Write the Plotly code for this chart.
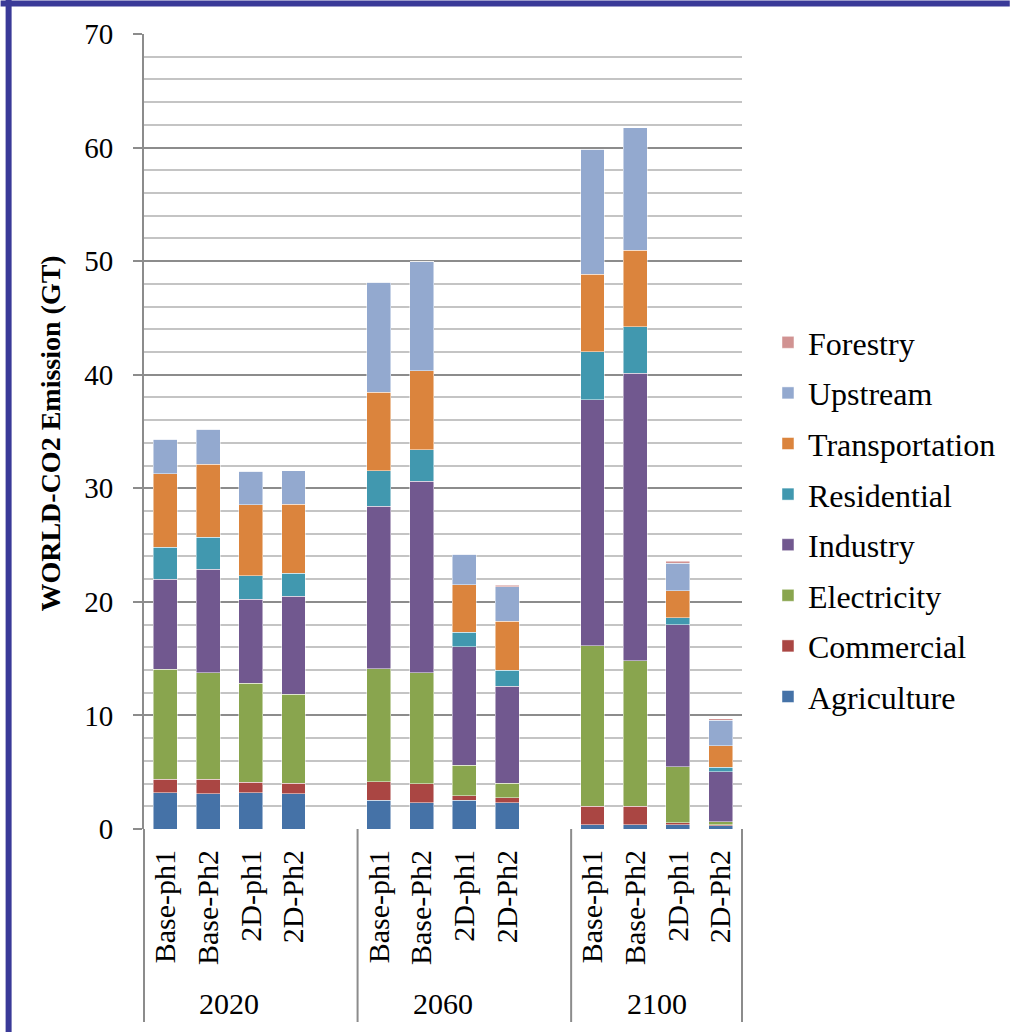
import plotly.graph_objects as go

# ---- data (GT of CO2 by sector) ----
years = ["2020", "2060", "2100"]
scenarios = ["Base-ph1", "Base-Ph2", "2D-ph1", "2D-Ph2"]

agriculture = [3.2, 3.1, 3.2, 3.1, 2.55, 2.3, 2.55, 2.3, 0.37, 0.37, 0.37, 0.3]
commercial = [1.2, 1.27, 0.91, 0.91, 1.62, 1.68, 0.37, 0.47, 1.64, 1.64, 0.16, 0.08]
electricity = [9.66, 9.39, 8.72, 7.84, 9.93, 9.77, 2.69, 1.28, 14.11, 12.8, 4.97, 0.25]
industry = [7.95, 9.1, 7.39, 8.66, 14.31, 16.87, 10.44, 8.52, 21.66, 25.3, 12.47, 4.39]
residential = [2.82, 2.82, 2.09, 1.99, 3.13, 2.79, 1.28, 1.41, 4.26, 4.11, 0.61, 0.41]
transportation = [6.43, 6.43, 6.25, 6.11, 6.9, 6.94, 4.18, 4.31, 6.81, 6.76, 2.38, 1.88]
upstream = [3.05, 3.11, 2.93, 2.93, 9.7, 9.59, 2.69, 3.03, 10.99, 10.75, 2.46, 2.26]
forestry = [0, 0, 0, 0, 0, 0, 0, 0.14, 0, 0, 0.16, 0.16]

sectors = ["Agriculture", "Commercial", "Electricity", "Industry",
           "Residential", "Transportation", "Upstream", "Forestry"]
values = [agriculture, commercial, electricity, industry,
          residential, transportation, upstream, forestry]
colors = ["#4572A7", "#AA4643", "#89A54E", "#71588F",
          "#4198AF", "#DB843D", "#93A9CF", "#D19392"]

# ---- layout geometry ----
W, H = 1010, 1032
L, R, T, B = 143.5, 268, 34, 203
PW, PH = W - L - R, H - T - B

def px_x(p):
    return (p - L) / PW

def px_y(p):
    return (H - B - p) / PH

# each year group holds its scenarios plus one empty slot between groups
slot = len(scenarios) + 1
n_slots = slot * len(years) - 1
xpos = [g * slot + i for g in range(len(years)) for i in range(len(scenarios))]
labels = [s for _ in years for s in scenarios]

serif = "Liberation Serif"

fig = go.Figure()
for i, (name, vals, col) in enumerate(zip(sectors, values, colors)):
    fig.add_trace(go.Bar(
        x=xpos, y=vals, name=name, legendgroup=name,
        legendrank=100 - i,  # top of stack listed first
        marker=dict(color=col, line=dict(color="rgba(255,255,255,0.6)", width=0.8)),
        width=0.56,
    ))

shapes = []
# vertical separators below the axis between year groups
for k in range(len(years) + 1):
    xs = min(k * slot, n_slots) / n_slots
    shapes.append(dict(type="line", xref="paper", yref="paper",
                       x0=xs, x1=xs, y0=0, y1=px_y(1022),
                       line=dict(color="#8c8c8c", width=2)))
# outer frame (left and top edges)
shapes.append(dict(type="line", xref="paper", yref="paper",
                   x0=px_x(8), x1=px_x(8), y0=px_y(0), y1=px_y(H + 5),
                   line=dict(color="#3a3a98", width=6)))
shapes.append(dict(type="line", xref="paper", yref="paper",
                   x0=px_x(0), x1=px_x(W), y0=px_y(3.5), y1=px_y(3.5),
                   line=dict(color="#3a3a98", width=6)))

annotations = []
for g, yr in enumerate(years):
    cx = (g * slot + (len(scenarios) - 1) / 2 + 0.5) / n_slots
    annotations.append(dict(text=yr, xref="paper", yref="paper", x=cx, y=px_y(1003),
                            showarrow=False, font=dict(family=serif, size=30, color="#000"),
                            xanchor="center", yanchor="middle"))
annotations.append(dict(text="<b>WORLD-CO2 Emission (GT)</b>", xref="paper", yref="paper",
                        x=px_x(49), y=px_y(434), textangle=-90, showarrow=False,
                        font=dict(family=serif, size=28, color="#000"),
                        xanchor="center", yanchor="middle"))

fig.update_layout(
    width=W, height=H,
    margin=dict(l=L, r=R, t=T, b=B, autoexpand=False),
    paper_bgcolor="white", plot_bgcolor="white",
    barmode="stack",
    showlegend=True,
    legend=dict(x=px_x(768), y=px_y(315), xanchor="left", yanchor="top",
                traceorder="grouped", tracegroupgap=6,
                font=dict(family=serif, size=32, color="#000"),
                bgcolor="rgba(0,0,0,0)"),
    xaxis=dict(range=[-0.5, n_slots - 0.5], tickmode="array", tickvals=xpos,
               ticktext=labels, tickangle=-90, showgrid=False, zeroline=False,
               showline=False, ticks="", ticklabelstandoff=14,
               tickfont=dict(family=serif, size=30, color="#000")),
    yaxis=dict(range=[0, 70], dtick=10, showgrid=True, gridcolor="#8c8c8c", gridwidth=2,
               minor=dict(dtick=2, showgrid=True, gridcolor="#c4c4c4", gridwidth=2),
               zeroline=False, showline=True, linecolor="#8c8c8c", linewidth=2,
               ticks="outside", ticklen=9, tickwidth=2, tickcolor="#8c8c8c",
               ticklabelstandoff=14,
               tickfont=dict(family=serif, size=29, color="#000")),
    shapes=shapes,
    annotations=annotations,
)

fig.write_html("out.html")
